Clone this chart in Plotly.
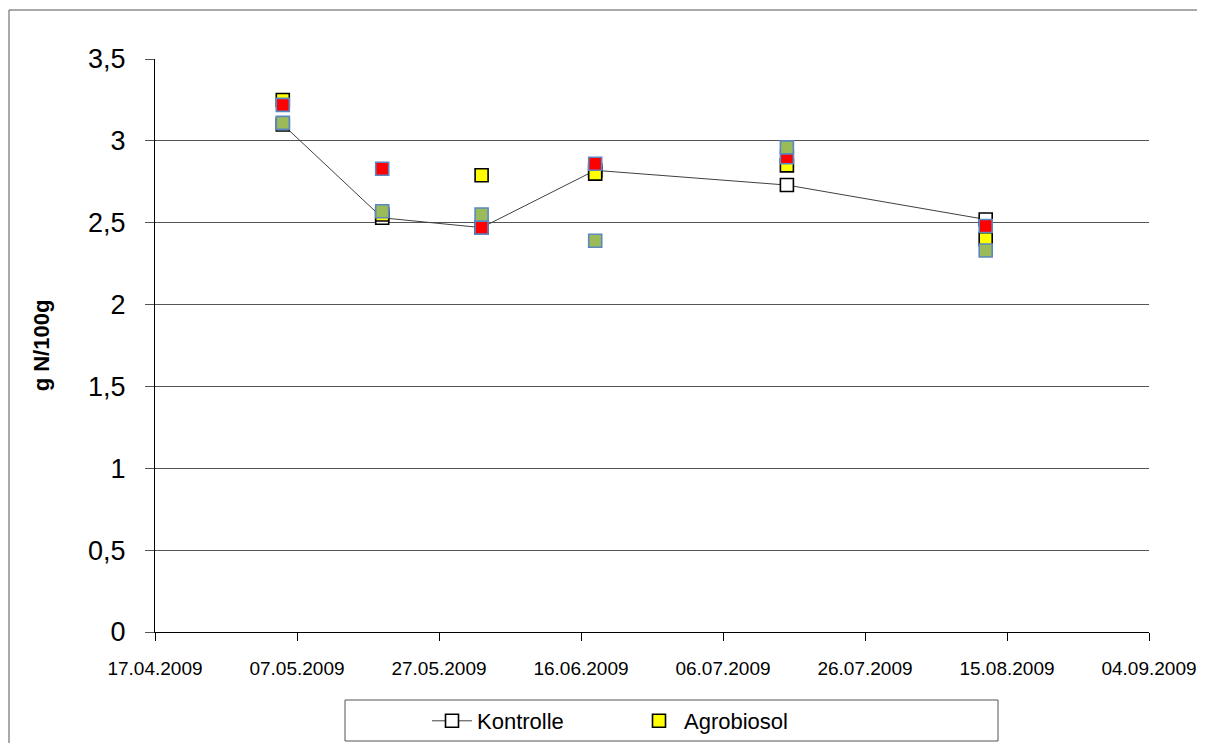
import plotly.graph_objects as go

dates = ["2009-05-05", "2009-05-19", "2009-06-02", "2009-06-18", "2009-07-15", "2009-08-12"]
kontrolle = [3.10, 2.53, 2.47, 2.82, 2.73, 2.52]
agrobiosol = [3.25, 2.55, 2.79, 2.80, 2.85, 2.40]
variante3 = [3.22, 2.83, 2.47, 2.86, 2.90, 2.48]
variante4 = [3.11, 2.57, 2.55, 2.39, 2.96, 2.33]

x_ticks = ["2009-04-17", "2009-05-07", "2009-05-27", "2009-06-16", "2009-07-06",
           "2009-07-26", "2009-08-15", "2009-09-04"]
x_ticklabels = ["17.04.2009", "07.05.2009", "27.05.2009", "16.06.2009", "06.07.2009",
                "26.07.2009", "15.08.2009", "04.09.2009"]
y_ticks = [0, 0.5, 1, 1.5, 2, 2.5, 3, 3.5]

# page has an 8px body margin; work in page pixels and convert
OFF = 8
W, H = 1205 - 2 * OFF, 751 - 2 * OFF
PL, PR, PT, PB = 155, 1149, 59, 632   # plot area in page pixels
L, T = PL - OFF, PT - OFF
R = W - (PR - OFF)
B = H - (PB - OFF)
pw, ph = W - L - R, H - T - B

def px_x(p):
    return (p - OFF - L) / pw

def px_y(p):
    return (H - B - (p - OFF)) / ph

fig = go.Figure()
fig.add_trace(go.Scatter(
    x=dates, y=kontrolle, name="Kontrolle", mode="lines+markers",
    line=dict(color="#404040", width=1),
    marker=dict(symbol="square", size=13, color="white", line=dict(color="black", width=1.6)),
))
fig.add_trace(go.Scatter(
    x=dates, y=agrobiosol, name="Agrobiosol", mode="markers",
    marker=dict(symbol="square", size=13, color="#FFFF00", line=dict(color="black", width=1.6)),
))
fig.add_trace(go.Scatter(
    x=dates, y=variante3, name="Variante 3", mode="markers", showlegend=False,
    marker=dict(symbol="square", size=13, color="#FF0000", line=dict(color="#5B87C2", width=1.6)),
))
fig.add_trace(go.Scatter(
    x=dates, y=variante4, name="Variante 4", mode="markers", showlegend=False,
    marker=dict(symbol="square", size=13, color="#9BBB59", line=dict(color="#5B87C2", width=1.6)),
))

bx0, by_bottom, by_top, bx1 = px_x(9), px_y(780), px_y(10), px_x(1240)
border_path = f"M {bx0},{by_bottom} L {bx0},{by_top} L {bx1},{by_top}"

fig.update_layout(
    width=W, height=H,
    margin=dict(l=L, r=R, t=T, b=B, autoexpand=False),
    paper_bgcolor="white", plot_bgcolor="white",
    separators=", ",
    font=dict(family="Liberation Sans, Arial, sans-serif", color="black"),
    showlegend=True,
    legend=dict(
        orientation="h", x=px_x(427), xanchor="left", y=px_y(721), yanchor="middle",
        font=dict(size=22), entrywidth=152, entrywidthmode="pixels",
        bgcolor="rgba(0,0,0,0)", borderwidth=0, itemwidth=40,
    ),
    shapes=[
        dict(type="path", xref="paper", yref="paper", path=border_path,
             line=dict(color="#555555", width=1), layer="below"),
        dict(type="rect", xref="paper", yref="paper",
             x0=px_x(345), x1=px_x(998), y0=px_y(700), y1=px_y(741),
             line=dict(color="#555555", width=1), fillcolor="rgba(0,0,0,0)", layer="below"),
    ],
)

fig.update_xaxes(
    type="date", range=["2009-04-17", "2009-09-04"],
    tickmode="array", tickvals=x_ticks, ticktext=x_ticklabels,
    ticks="outside", ticklen=8, tickcolor="black", tickwidth=1,
    showline=True, linecolor="black", linewidth=1,
    showgrid=False, zeroline=False, automargin=False,
    tickfont=dict(size=19), ticklabelstandoff=11,
)
fig.update_yaxes(
    range=[0, 3.5], tickmode="array", tickvals=y_ticks,
    ticks="outside", ticklen=9, tickcolor="#555555", tickwidth=1,
    showline=True, linecolor="black", linewidth=1,
    showgrid=True, gridcolor="#555555", gridwidth=1, zeroline=False, automargin=False,
    tickfont=dict(size=27), ticklabelstandoff=14,
    title=dict(text="<b>g N/100g</b>", font=dict(size=22), standoff=32),
)

fig.write_html("out.html")
